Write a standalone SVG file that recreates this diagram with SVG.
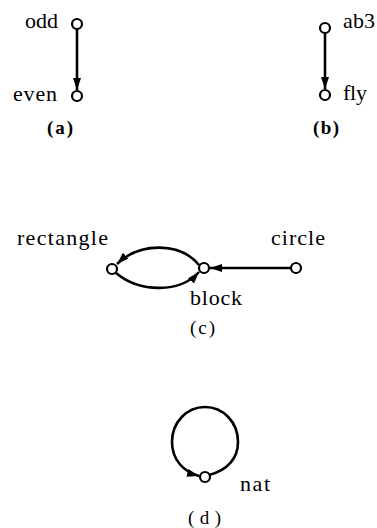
<svg xmlns="http://www.w3.org/2000/svg" width="377" height="528" viewBox="0 0 377 528">
<style>
.node{fill:#fff;stroke:#000;stroke-width:2.2}
.edge{fill:none;stroke:#000;stroke-width:2.6}
.lbl{font-family:"Liberation Serif","DejaVu Serif",serif;font-size:22px;fill:#000}
.cap{font-family:"Liberation Serif","DejaVu Serif",serif;font-size:19px;fill:#000}
</style>
<defs>
<marker id="ah" viewBox="0 0 12 8" refX="12" refY="4" markerWidth="12" markerHeight="8" markerUnits="userSpaceOnUse" orient="auto">
<path d="M0,0 L12,4 L0,8 Z" fill="#000"/>
</marker>
</defs>
<g id="connectors">
<line class="edge" x1="77" y1="29" x2="77" y2="90" marker-end="url(#ah)"/>
<line class="edge" x1="325" y1="33" x2="325" y2="89" marker-end="url(#ah)"/>
<path class="edge" d="M199,265 C180,242 140,242 117,264" marker-end="url(#ah)"/>
<path class="edge" d="M116,273 C140,293 180,293 199,272" marker-end="url(#ah)"/>
<line class="edge" x1="291" y1="268" x2="210" y2="268" marker-end="url(#ah)"/>
<path class="edge" d="M209,475 C228,470 238,458 238,442 C238,422 223,407 205,407 C187,407 172,422 172,442 C172,460 184,472 199,476" marker-end="url(#ah)"/>
</g>
<g id="odd"><circle class="node" cx="77" cy="24" r="5"/><text class="lbl" x="25" y="28" textLength="33">odd</text></g>
<g id="even"><circle class="node" cx="77" cy="96" r="5"/><text class="lbl" x="13" y="101" textLength="44">even</text></g>
<g id="ab3"><circle class="node" cx="325" cy="28" r="5"/><text class="lbl" x="343" y="28" textLength="32">ab3</text></g>
<g id="fly"><circle class="node" cx="325" cy="95" r="5"/><text class="lbl" x="343" y="100" textLength="24">fly</text></g>
<g id="rectangle"><circle class="node" cx="112" cy="269" r="5"/><text class="lbl" x="17" y="245" textLength="91">rectangle</text></g>
<g id="block"><circle class="node" cx="204" cy="268" r="5"/><text class="lbl" x="190" y="305" textLength="52">block</text></g>
<g id="circle"><circle class="node" cx="296" cy="268" r="5"/><text class="lbl" x="271" y="245" textLength="54">circle</text></g>
<g id="nat"><circle class="node" cx="205" cy="477" r="5"/><text class="lbl" x="240" y="491" textLength="30">nat</text></g>
<text class="cap" x="47" y="134" font-weight="bold" textLength="26">( a )</text>
<text class="cap" x="313" y="134" font-weight="bold" textLength="26">( b )</text>
<text class="cap" x="190" y="334" textLength="25">( c )</text>
<text class="cap" x="188" y="524" textLength="33">( d )</text>
</svg>
